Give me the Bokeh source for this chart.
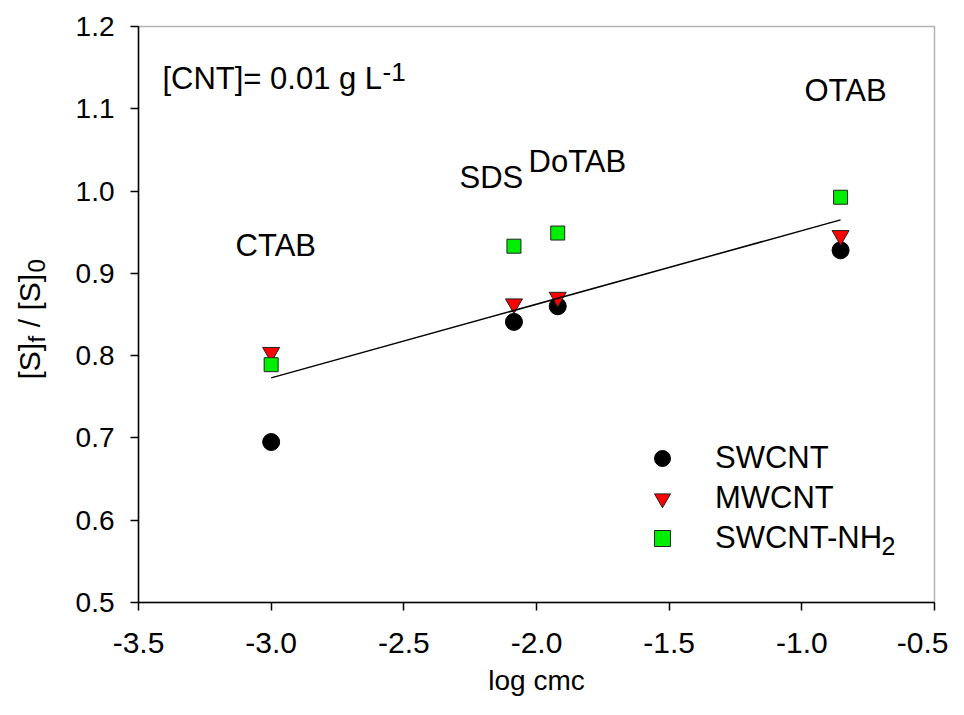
import math
from bokeh.plotting import figure
from bokeh.models import (Legend, LegendItem, Label, FixedTicker, Range1d,
                          BoxAnnotation)
from bokeh.core.properties import value
from bokeh.embed import file_html
from bokeh.resources import INLINE

# ---------------- data ----------------
surfactants = ["CTAB", "SDS", "DoTAB", "OTAB"]
log_cmc = [-3.00, -2.085, -1.92, -0.854]
swcnt = [0.695, 0.841, 0.860, 0.928]
mwcnt = [0.804, 0.863, 0.871, 0.946]
swcnt_nh2 = [0.789, 0.933, 0.949, 0.9925]
fit_x = [-3.00, -0.854]
fit_y = [0.773, 0.965]

x_ticks = [-3.5, -3.0, -2.5, -2.0, -1.5, -1.0, -0.5]
x_tick_labels = ["-3.5", "-3.0", "-2.5", "-2.0", "-1.5", "-1.0", "-0.5"]
y_ticks = [0.5, 0.6, 0.7, 0.8, 0.9, 1.0, 1.1, 1.2]
y_tick_labels = ["0.5", "0.6", "0.7", "0.8", "0.9", "1.0", "1.1", "1.2"]
X_MIN, X_MAX = -3.5, -0.5
Y_MIN, Y_MAX = 0.5, 1.2

# annotation label anchors (data coordinates)
ann_x = [-3.134, -2.290, -2.030, -0.990]
ann_y = [0.934, 1.0165, 1.036, 1.122]

FONT = "Liberation Sans"

# plot-box geometry (pixels in the picture)
FL, FR, FT, FB = 138, 934, 26, 602
W, H = 948, 699


def dx(px):
    return X_MIN + (px - FL) * (X_MAX - X_MIN) / (FR - FL)


def dy(py):
    return Y_MIN + (FB - py) * (Y_MAX - Y_MIN) / (FB - FT)


# The frame covers the whole canvas; the axes are fixed at the box edges so
# that the rotated y label can sit to the left of the axis.
p = figure(width=W, height=H, output_backend="svg", toolbar_location=None,
           x_range=Range1d(dx(0), dx(W)), y_range=Range1d(dy(H), dy(0)),
           min_border_left=0, min_border_right=0,
           min_border_top=0, min_border_bottom=0)

p.background_fill_color = "white"
p.border_fill_color = "white"
p.grid.visible = False
p.outline_line_color = None

for ax in (p.xaxis, p.yaxis):
    ax.axis_line_color = "black"
    ax.axis_line_width = 1.5
    ax.major_tick_line_color = "black"
    ax.major_tick_line_width = 1.5
    ax.major_tick_out = 8
    ax.major_tick_in = 0
    ax.minor_tick_line_color = None
    ax.major_label_text_color = "black"
    ax.major_label_text_font = FONT

p.xaxis.fixed_location = Y_MIN
p.yaxis.fixed_location = X_MIN
p.xaxis.bounds = (X_MIN, X_MAX)
p.yaxis.bounds = (Y_MIN, Y_MAX)
p.xaxis.ticker = FixedTicker(ticks=x_ticks)
p.yaxis.ticker = FixedTicker(ticks=y_ticks)
p.xaxis.major_label_overrides = dict(zip(x_ticks, x_tick_labels))
p.yaxis.major_label_overrides = dict(zip(y_ticks, y_tick_labels))
p.xaxis.major_label_text_font_size = "30px"
p.yaxis.major_label_text_font_size = "28px"
p.xaxis.major_label_standoff = 22
p.yaxis.major_label_standoff = 16

p.xaxis.axis_label = "log cmc"
p.xaxis.axis_label_text_font = FONT
p.xaxis.axis_label_text_font_size = "28px"
p.xaxis.axis_label_text_font_style = "normal"
p.xaxis.axis_label_text_color = "black"
p.xaxis.axis_label_standoff = 9

# plot box (top and right edges)
p.add_layout(BoxAnnotation(left=X_MIN, right=X_MAX, bottom=Y_MIN, top=Y_MAX,
                           fill_alpha=0.0, line_color="black", line_width=1.5,
                           level="underlay"))

# ---------------- data marks ----------------
r_sw = p.scatter(log_cmc, swcnt, marker="circle", size=17,
                 fill_color="black", line_color="black", line_width=1)
r_mw = p.scatter(log_cmc, mwcnt, marker="inverted_triangle", size=17,
                 fill_color="#ff0000", line_color="#222222", line_width=1)
r_nh = p.scatter(log_cmc, swcnt_nh2, marker="square", size=14,
                 fill_color="#00ee00", line_color="#222222", line_width=1)
p.line(fit_x, fit_y, line_color="black", line_width=1.5)

# ---------------- surfactant labels ----------------
p.text(x=ann_x, y=ann_y, text=surfactants, text_font=value(FONT),
       text_font_size="31px", text_color="black",
       text_align="left", text_baseline="middle")

# [CNT]= 0.01 g L^-1
p.add_layout(Label(x=-3.41, y=1.137, text="[CNT]= 0.01 g L", text_font=FONT,
                   text_font_size="31px", text_color="black",
                   text_align="left", text_baseline="middle"))
p.add_layout(Label(x=dx(382), y=dy(71), text="-1", text_font=FONT,
                   text_font_size="26px", text_color="black",
                   text_align="left", text_baseline="middle"))

# ---------------- y axis label: [S]f / [S]0 ----------------
ang = math.pi / 2


def ylab(text, px, py, size):
    p.add_layout(Label(x=dx(px), y=dy(py), text=text, angle=ang,
                       text_font=FONT, text_font_size=size,
                       text_align="left", text_baseline="middle",
                       text_color="black"))


ylab("[S]", 29, 379, "30px")
ylab("f", 36, 342, "24px")
ylab("\u00a0/ [S]", 29, 335, "30px")
ylab("0", 36, 272, "24px")

# ---------------- legend ----------------
legend = Legend(items=[LegendItem(label="SWCNT", renderers=[r_sw]),
                       LegendItem(label="MWCNT", renderers=[r_mw]),
                       LegendItem(label="SWCNT-NH", renderers=[r_nh])],
                location=(504 + FL, 44 + (H - FB)), orientation="vertical",
                glyph_width=40, glyph_height=40, label_height=40, spacing=0,
                padding=0, margin=0, label_standoff=33,
                label_text_font=FONT, label_text_font_size="31px",
                label_text_color="black", label_text_baseline="middle",
                border_line_color=None, background_fill_alpha=0.0)
p.add_layout(legend)
p.add_layout(Label(x=dx(881), y=dy(545), text="2", text_font=FONT,
                   text_font_size="25px", text_align="left", text_baseline="middle",
                   text_color="black"))

open("out.html", "w").write(file_html(p, INLINE))
